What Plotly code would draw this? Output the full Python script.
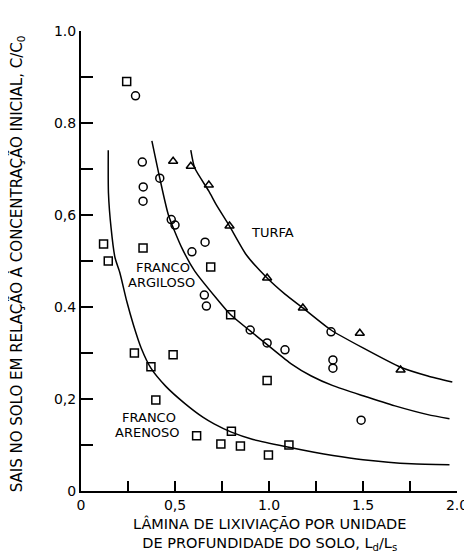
import plotly.graph_objects as go

sq_x = [0.243, 0.12, 0.145, 0.33, 0.284, 0.49, 0.372, 0.398, 0.615, 0.744, 0.80, 0.848, 0.997, 1.106, 0.69, 0.796, 0.99]
sq_y = [0.89, 0.537, 0.50, 0.528, 0.30, 0.296, 0.27, 0.198, 0.12, 0.102, 0.13, 0.098, 0.078, 0.10, 0.487, 0.383, 0.24]

ci_x = [0.29, 0.326, 0.331, 0.33, 0.419, 0.48, 0.50, 0.59, 0.66, 0.656, 0.667, 0.90, 0.99, 1.085, 1.33, 1.34, 1.34, 1.49]
ci_y = [0.859, 0.715, 0.661, 0.63, 0.68, 0.59, 0.578, 0.52, 0.541, 0.426, 0.402, 0.35, 0.322, 0.307, 0.346, 0.285, 0.267, 0.154]

tr_x = [0.49, 0.584, 0.68, 0.79, 0.99, 1.18, 1.483, 1.70]
tr_y = [0.717, 0.706, 0.665, 0.576, 0.463, 0.398, 0.343, 0.263]

# --- fitted curves ---
arenoso_x = [0.145, 0.146, 0.16, 0.181, 0.207, 0.243, 0.279, 0.32, 0.372, 0.45, 0.553, 0.65, 0.708, 0.80, 0.915, 1.106, 1.24, 1.34, 1.50, 1.757, 1.96]
arenoso_y = [0.741, 0.648, 0.572, 0.507, 0.474, 0.413, 0.361, 0.311, 0.267, 0.228, 0.190, 0.160, 0.146, 0.128, 0.112, 0.095, 0.084, 0.077, 0.068, 0.059, 0.057]

argiloso_x = [0.377, 0.419, 0.465, 0.537, 0.605, 0.718, 0.796, 0.90, 1.0, 1.12, 1.225, 1.34, 1.50, 1.67, 1.845, 1.96]
argiloso_y = [0.761, 0.68, 0.60, 0.528, 0.478, 0.42, 0.383, 0.348, 0.315, 0.276, 0.250, 0.229, 0.207, 0.185, 0.166, 0.157]

turfa_x = [0.584, 0.605, 0.68, 0.72, 0.79, 0.88, 0.99, 1.085, 1.18, 1.33, 1.50, 1.70, 1.845, 1.975]
turfa_y = [0.741, 0.702, 0.652, 0.622, 0.576, 0.513, 0.463, 0.428, 0.398, 0.350, 0.311, 0.269, 0.25, 0.237]

# --- ticks ---
x_tickvals = [0, 0.5, 1.0, 1.5, 2.0]
x_ticktext = ["0", "0,5", "1.0", "1.5", "2.0"]
x_minor = [0.25, 0.75, 1.25, 1.75]
y_tickvals = [0, 0.2, 0.4, 0.6, 0.8, 1.0]
y_ticktext = ["0", "0,2", "0.4", "0,6", "0.8", "1.0"]
y_minor = [0.1, 0.3, 0.5, 0.7, 0.9]

FONT = "DejaVu Sans"
fig = go.Figure()

for cx, cy, nm in [(arenoso_x, arenoso_y, "Franco arenoso"),
                   (argiloso_x, argiloso_y, "Franco argiloso"),
                   (turfa_x, turfa_y, "Turfa")]:
    fig.add_trace(go.Scatter(x=cx, y=cy, mode="lines", name=nm,
                             line=dict(color="black", width=1.5, shape="spline", smoothing=0.6),
                             showlegend=False, hoverinfo="skip"))

for px, py, sym, nm in [(sq_x, sq_y, "square-open", "Franco arenoso"),
                        (ci_x, ci_y, "circle-open", "Franco argiloso"),
                        (tr_x, tr_y, "triangle-up-open", "Turfa")]:
    fig.add_trace(go.Scatter(x=px, y=py, mode="markers", name=nm,
                             marker=dict(symbol=sym, size=8, color="black", line=dict(width=1.5, color="black")),
                             showlegend=False))

lab_font = dict(family=FONT, size=13, color="black")
for tx, ty, tt in [(1.018, 0.561, "TURFA"),
                   (0.434, 0.485, "FRANCO"), (0.43, 0.454, "ARGILOSO"),
                   (0.36, 0.159, "FRANCO"), (0.352, 0.128, "ARENOSO")]:
    fig.add_annotation(x=tx, y=ty, text=tt, showarrow=False, font=lab_font)

fig.add_annotation(xref="paper", yref="paper", x=-0.17, y=0.493, xanchor="center", yanchor="middle",
                   text="SAIS NO SOLO EM RELAÇÃO À CONCENTRAÇÃO INICIAL, C/C<sub>0</sub>",
                   textangle=-90, showarrow=False, font=dict(family=FONT, size=15, color="black"))
fig.add_annotation(xref="paper", yref="paper", x=0.501, y=-0.048, xanchor="center", yanchor="top",
                   text="LÂMINA DE LIXIVIAÇÃO POR UNIDADE<br>DE PROFUNDIDADE DO SOLO, L<sub>d</sub>/L<sub>s</sub>",
                   showarrow=False, font=dict(family=FONT, size=14.5, color="black"))

fig.update_xaxes(range=[0, 2.0], tickvals=x_tickvals, ticktext=x_ticktext, ticks="inside", ticklen=10,
                 tickwidth=2, tickcolor="black", showline=True, linewidth=2, linecolor="black",
                 minor=dict(tickvals=x_minor, ticks="inside", ticklen=10, tickwidth=2, tickcolor="black", showgrid=False),
                 showgrid=False, zeroline=False, tickfont=dict(family=FONT, size=14, color="black"))
fig.update_yaxes(range=[0, 1.0], tickvals=y_tickvals, ticktext=y_ticktext, ticks="inside", ticklen=12,
                 tickwidth=2, tickcolor="black", showline=True, linewidth=2, linecolor="black",
                 minor=dict(tickvals=y_minor, ticks="inside", ticklen=12, tickwidth=2, tickcolor="black", showgrid=False),
                 showgrid=False, zeroline=False, tickfont=dict(family=FONT, size=14, color="black"))

fig.update_layout(width=472, height=553, margin=dict(l=73, r=12, t=23, b=70),
                  plot_bgcolor="white", paper_bgcolor="white", showlegend=False)

fig.write_html("out.html")
